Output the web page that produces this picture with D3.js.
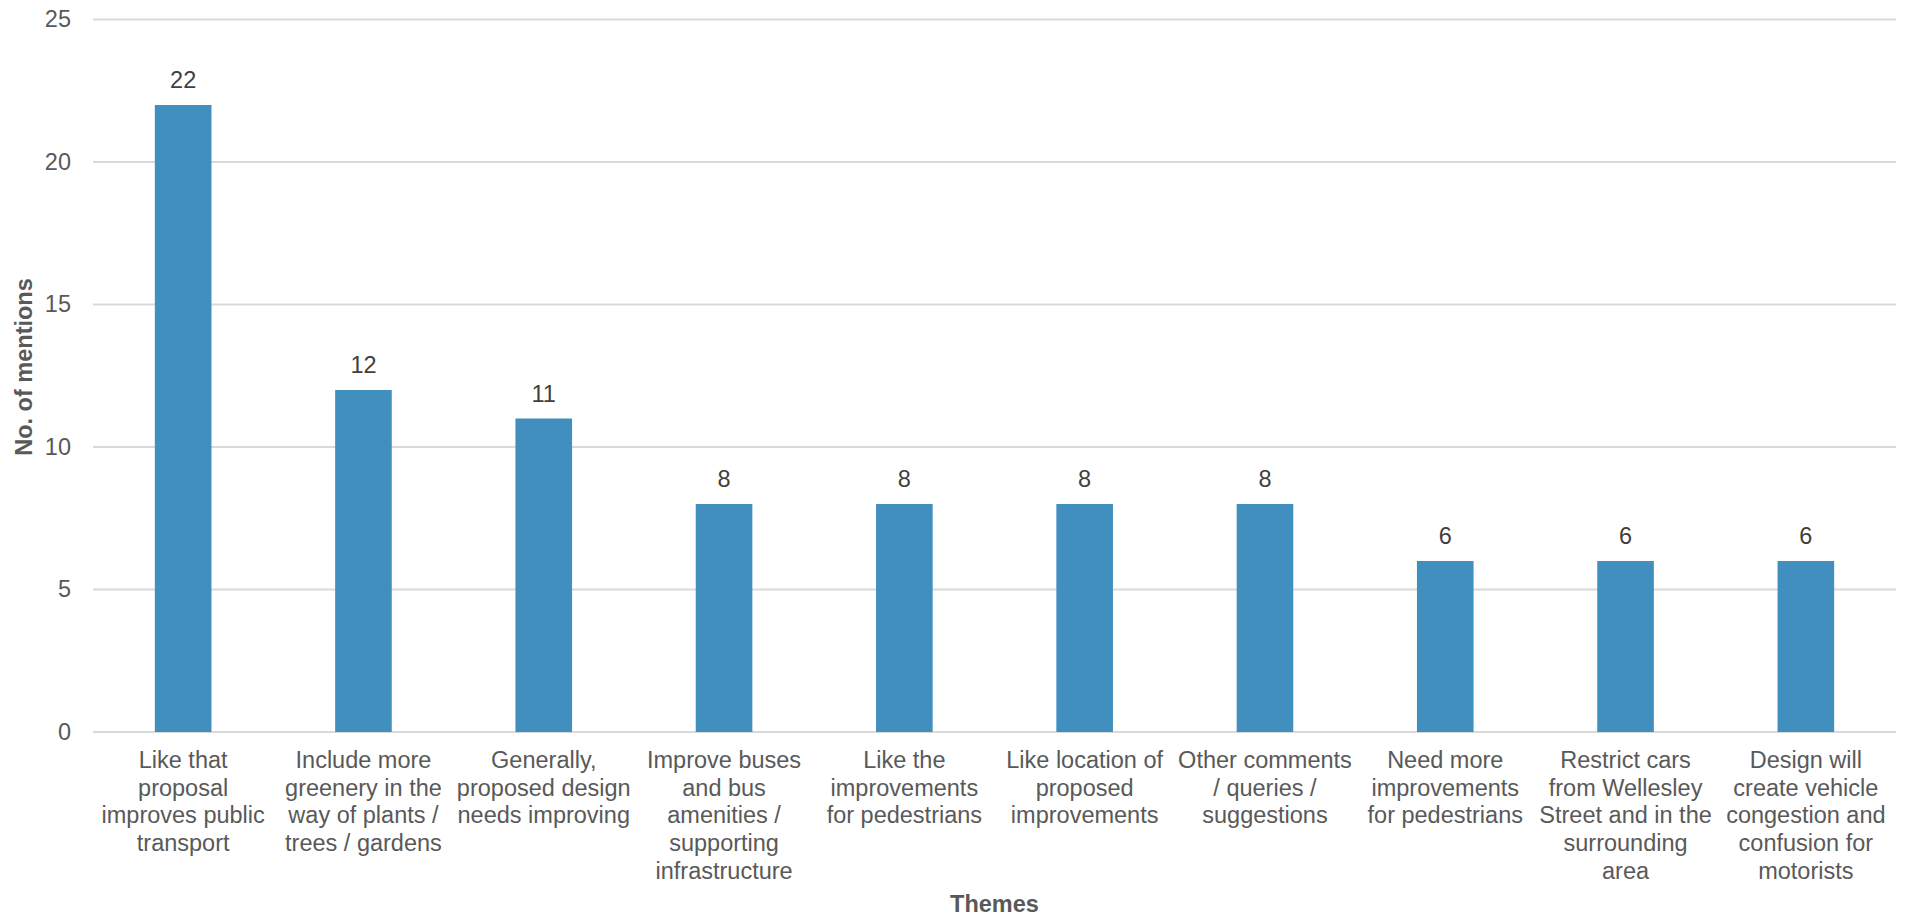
<!DOCTYPE html>
<html>
<head>
<meta charset="utf-8">
<script src="https://cdn.jsdelivr.net/npm/d3@7"></script>
<style>
  html, body { margin: 0; padding: 0; background: #fff; }
  svg { display: block; font-family: "Liberation Sans", Arial, sans-serif; }
</style>
</head>
<body>
<svg id="chart" width="1910" height="918"></svg>
<script>
const categories = [
  ["Like that", "proposal", "improves public", "transport"],
  ["Include more", "greenery in the", "way of plants /", "trees / gardens"],
  ["Generally,", "proposed design", "needs improving"],
  ["Improve buses", "and bus", "amenities /", "supporting", "infrastructure"],
  ["Like the", "improvements", "for pedestrians"],
  ["Like location of", "proposed", "improvements"],
  ["Other comments", "/ queries /", "suggestions"],
  ["Need more", "improvements", "for pedestrians"],
  ["Restrict cars", "from Wellesley", "Street and in the", "surrounding", "area"],
  ["Design will", "create vehicle", "congestion and", "confusion for", "motorists"]
];
const values = [22, 12, 11, 8, 8, 8, 8, 6, 6, 6];
const yTicks = [0, 5, 10, 15, 20, 25];
const xTitle = "Themes";
const yTitle = "No. of mentions";

const svg = d3.select("#chart");
const plotL = 93, plotR = 1896, plotT = 19.5, plotB = 732;
const textColor = "#595959";
const fontSize = 23.5;

const x = d3.scaleBand().domain(d3.range(categories.length)).range([plotL, plotR]).padding(0);
const y = d3.scaleLinear().domain([0, 25]).range([plotB, plotT]);
const barW = x.bandwidth() * 0.314;

// gridlines
svg.append("g").selectAll("line").data(yTicks).join("line")
  .attr("x1", plotL).attr("x2", plotR)
  .attr("y1", d => y(d)).attr("y2", d => y(d))
  .attr("stroke", "#d9d9d9").attr("stroke-width", 2);

// y tick labels
svg.append("g").selectAll("text").data(yTicks).join("text")
  .attr("x", 71).attr("y", d => y(d)).attr("dy", "0.33em")
  .attr("text-anchor", "end").attr("fill", textColor)
  .attr("font-size", fontSize).text(d => d);

// bars
svg.append("g").selectAll("rect").data(values).join("rect")
  .attr("x", (d, i) => x(i) + x.bandwidth() / 2 - barW / 2)
  .attr("width", barW)
  .attr("y", d => y(d))
  .attr("height", d => y(0) - y(d))
  .attr("fill", "#418fbf");

// data labels
svg.append("g").selectAll("text").data(values).join("text")
  .attr("x", (d, i) => x(i) + x.bandwidth() / 2)
  .attr("y", d => y(d) - 17)
  .attr("text-anchor", "middle").attr("fill", "#404040")
  .attr("font-size", fontSize).text(d => d);

// category labels
const cat = svg.append("g").selectAll("text").data(categories).join("text")
  .attr("text-anchor", "middle").attr("fill", textColor)
  .attr("font-size", fontSize)
  .attr("transform", (d, i) => `translate(${x(i) + x.bandwidth() / 2},768)`);
cat.selectAll("tspan").data(d => d).join("tspan")
  .attr("x", 0).attr("y", (d, j) => j * 27.7).text(d => d);

// axis titles
svg.append("text")
  .attr("x", (plotL + plotR) / 2).attr("y", 912)
  .attr("text-anchor", "middle").attr("fill", textColor)
  .attr("font-size", fontSize).attr("font-weight", "bold").text(xTitle);

svg.append("text")
  .attr("transform", `translate(32,367) rotate(-90)`)
  .attr("text-anchor", "middle").attr("fill", textColor)
  .attr("font-size", fontSize).attr("font-weight", "bold").text(yTitle);
</script>
</body>
</html>
